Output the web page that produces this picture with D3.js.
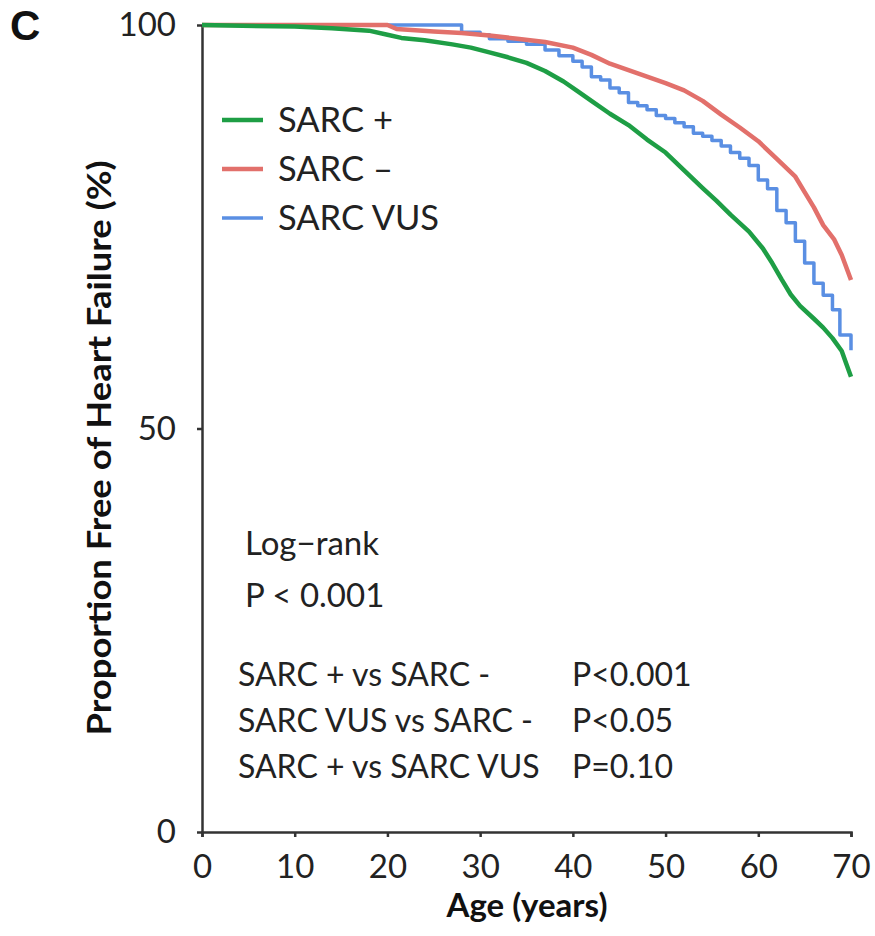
<!DOCTYPE html>
<html>
<head>
<meta charset="utf-8">
<script src="https://cdn.jsdelivr.net/npm/d3@7"></script>
<style>
  body { margin: 0; background: #fff; }
  svg { display: block; font-family: Lato, "Open Sans", sans-serif; }
  .axis path, .axis line { stroke: #333; stroke-width: 2.5; }
  .axis text { font-size: 33px; fill: #222; font-family: Lato, sans-serif; }
  .km { fill: none; stroke-linejoin: round; }
</style>
</head>
<body>
<svg width="875" height="936"></svg>
<script>
// Kaplan-Meier estimates: [age, % free of heart failure]
var sarcPlus = [
  [0,100],[10,99.8],[14,99.6],[18,99.3],[20,98.8],[21.5,98.4],[24,98.1],[27,97.6],
  [29,97.2],[31,96.6],[33,96.0],[35,95.3],[37,94.3],[39,93.0],[40.5,91.8],[42,90.6],
  [44,89.0],[46,87.6],[48,85.8],[50,84.2],[52,82.0],[54,79.8],[55.5,78.2],[57,76.5],
  [59,74.4],[60.5,72.3],[61.5,70.5],[62.5,68.5],[63.5,66.6],[64.5,65.2],[66,63.6],
  [67,62.5],[68,61.2],[69,59.6],[69.5,58.0],[70,56.4]
];
var sarcMinus = [
  [0,100],[20,100],[21,99.5],[25,99.2],[28,99.0],[31,98.7],[34,98.3],[37,97.9],
  [40,97.2],[42,96.3],[44,95.2],[46,94.4],[48,93.6],[50,92.8],[52,91.9],[54,90.6],
  [56,88.9],[58,87.3],[60,85.6],[62,83.4],[64,81.2],[65,79.3],[66,77.4],[67,75.2],
  [68.2,73.4],[69,71.5],[70,68.4]
];
var sarcVus = [
  [0,100],[27.5,100],[28,99.1],[30,98.8],[31,98.3],[33,98.0],[35,97.6],[37,96.9],
  [38.5,96.2],[40,95.5],[41,94.8],[42,93.6],[43,93.2],[44,92.2],[45,91.6],[46,90.4],
  [47,90.0],[48,89.5],[49,88.8],[50,88.4],[51,87.9],[52,87.4],[53,86.6],[54,86.2],
  [55,85.7],[56,85.0],[57,84.2],[58,83.5],[59,82.6],[60,80.8],[61,79.7],[62,77.0],
  [63,75.5],[64,73.2],[65,70.5],[66,68.0],[67,66.5],[68,64.7],[68.8,61.6],[70,59.7]
];

var seriesNames = ['SARC +', 'SARC \u2013', 'SARC VUS'];
var xTicks = [0, 10, 20, 30, 40, 50, 60, 70];
var yTicks = [0, 50, 100];
var statsHead = ['Log\u2212rank', 'P < 0.001'];
var pairNames = ['SARC + vs SARC -', 'SARC VUS vs SARC -', 'SARC + vs SARC VUS'];
var pairP = ['P<0.001', 'P<0.05', 'P=0.10'];

var series = [
  {name: seriesNames[0], values: sarcPlus, color: '#1e9e45', width: 4.5, step: false},
  {name: seriesNames[1], values: sarcMinus, color: '#e2706b', width: 4.5, step: false},
  {name: seriesNames[2], values: sarcVus, color: '#5a8fe3', width: 3.5, step: true}
];

var svg = d3.select('svg');
var x = d3.scaleLinear().domain([0, 70]).range([202, 851]);
var y = d3.scaleLinear().domain([0, 100]).range([832, 25]);

// axes
svg.append('g')
  .attr('class', 'axis')
  .attr('transform', 'translate(0,' + y(0) + ')')
  .call(d3.axisBottom(x).tickValues(xTicks).tickSize(5).tickPadding(13).tickSizeOuter(5))
  .selectAll('text').attr('dy', '0.85em');

svg.append('g')
  .attr('class', 'axis')
  .attr('transform', 'translate(' + x(0) + ',0)')
  .call(d3.axisLeft(y).tickValues(yTicks).tickSize(5).tickPadding(21).tickSizeOuter(0));

// curves
svg.append('g')
  .selectAll('path.km')
  .data(series.slice().reverse())
  .enter()
    .append('path')
    .classed('km', true)
    .attr('stroke', function(d) { return d.color; })
    .attr('stroke-width', function(d) { return d.width; })
    .attr('d', function(d) {
      return d3.line()
        .x(function(p) { return x(p[0]); })
        .y(function(p) { return y(p[1]); })
        .curve(d.step ? d3.curveStepAfter : d3.curveLinear)(d.values);
    });

// legend
var legend = svg.append('g').selectAll('g.item')
  .data(series)
  .enter()
    .append('g')
    .attr('transform', function(d, i) { return 'translate(222,' + (120 + i * 49) + ')'; });

legend.append('line')
  .attr('x1', 0).attr('x2', 41)
  .attr('stroke', function(d) { return d.color; })
  .attr('stroke-width', function(d) { return d.width; });

legend.append('text')
  .attr('x', 56)
  .attr('dy', '0.35em')
  .attr('font-size', 34.5)
  .attr('fill', '#222')
  .text(function(d) { return d.name; });

// log-rank annotation
svg.append('g').selectAll('text')
  .data(statsHead)
  .enter()
    .append('text')
    .attr('x', 245)
    .attr('y', function(d, i) { return 555 + i * 52; })
    .attr('font-size', 33)
    .attr('fill', '#222')
    .text(function(d) { return d; });

var pairs = svg.append('g');
pairs.selectAll('text.pair')
  .data(pairNames)
  .enter()
    .append('text')
    .attr('x', 238)
    .attr('y', function(d, i) { return 686 + i * 46; })
    .attr('font-size', 32)
    .attr('fill', '#222')
    .text(function(d) { return d; });

pairs.selectAll('text.p')
  .data(pairP)
  .enter()
    .append('text')
    .attr('x', 572)
    .attr('y', function(d, i) { return 686 + i * 46; })
    .attr('font-size', 32)
    .attr('fill', '#222')
    .text(function(d) { return d; });

// axis titles
svg.append('text')
  .attr('transform', 'translate(111,448) rotate(-90)')
  .attr('text-anchor', 'middle')
  .attr('font-size', 33)
  .attr('font-weight', 'bold')
  .attr('fill', '#111')
  .attr('textLength', 575)
  .attr('lengthAdjust', 'spacingAndGlyphs')
  .text('Proportion Free of Heart Failure (%)');

svg.append('text')
  .attr('x', 527)
  .attr('y', 917)
  .attr('text-anchor', 'middle')
  .attr('font-size', 33)
  .attr('font-weight', 'bold')
  .attr('fill', '#111')
  .text('Age (years)');

// panel letter
svg.append('text')
  .attr('x', 10)
  .attr('y', 40)
  .attr('font-family', 'Liberation Sans, Arial, sans-serif')
  .attr('font-size', 42)
  .attr('font-weight', 'bold')
  .attr('fill', '#111')
  .text('C');
</script>
</body>
</html>
